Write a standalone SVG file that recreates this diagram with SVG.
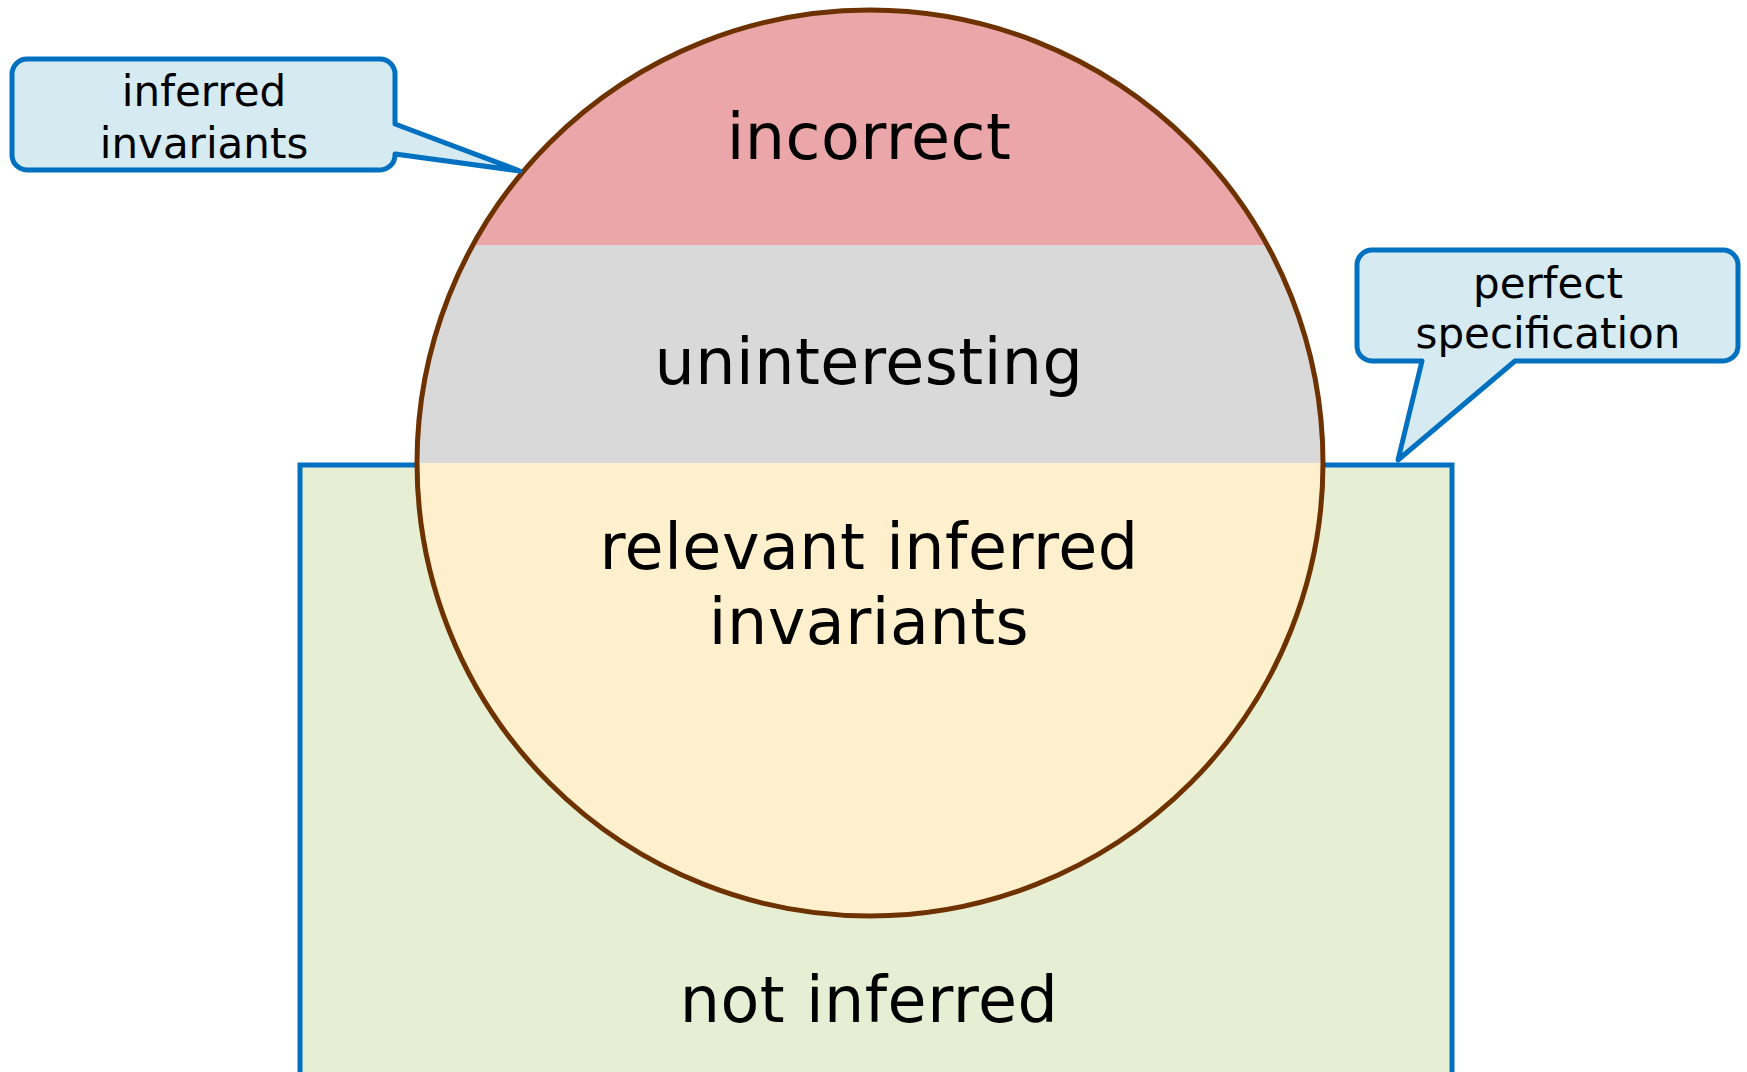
<svg xmlns="http://www.w3.org/2000/svg" width="1747" height="1072" viewBox="0 0 1747 1072">
<style>
.t{font-family:"DejaVu Sans","Verdana",sans-serif;fill:#000;text-anchor:middle}
.big{font-size:63.5px;letter-spacing:0.5px}
.small{font-size:42px}
.callout{fill:#D5EAF1;stroke:#0070C0;stroke-width:5;stroke-linejoin:round}
</style>
<defs>
<clipPath id="cc"><circle cx="870" cy="463" r="453"/></clipPath>
</defs>
<rect width="1747" height="1072" fill="#fff"/>
<g id="not-inferred">
<rect x="300" y="465" width="1152" height="640" fill="#E6EFD4" stroke="#0070C0" stroke-width="5"/>
<text class="t big" x="869" y="1022">not inferred</text>
</g>
<g id="circle">
<g clip-path="url(#cc)">
<rect id="incorrect-band" x="400" y="0" width="950" height="245" fill="#EAA6A8"/>
<rect id="uninteresting-band" x="400" y="245" width="950" height="218" fill="#D9D9D9"/>
<rect id="relevant-band" x="400" y="463" width="950" height="460" fill="#FEF0CD"/>
</g>
<circle cx="870" cy="463" r="453" fill="none" stroke="#6E3200" stroke-width="5"/>
</g>
<g id="incorrect"><text class="t big" x="869" y="159">incorrect</text></g>
<g id="uninteresting"><text class="t big" x="869" y="384">uninteresting</text></g>
<g id="relevant"><text class="t big" x="869" y="569">relevant inferred</text><text class="t big" x="869" y="644">invariants</text></g>
<g id="callout-inferred">
<path class="callout" d="M27,59 H380 A15,15 0 0 1 395,74 V124 L520,171 L395,154 V155 A15,15 0 0 1 380,170 H27 A15,15 0 0 1 12,155 V74 A15,15 0 0 1 27,59 Z"/>
<text class="t small" x="204" y="106">inferred</text>
<text class="t small" x="204" y="158">invariants</text>
</g>
<g id="callout-perfect">
<path class="callout" d="M1372,250 H1723 A15,15 0 0 1 1738,265 V346 A15,15 0 0 1 1723,361 H1515 L1398,460 L1422,361 H1372 A15,15 0 0 1 1357,346 V265 A15,15 0 0 1 1372,250 Z"/>
<text class="t small" x="1548" y="298">perfect</text>
<text class="t small" x="1548" y="348">specification</text>
</g>
<g id="connectors"></g>
</svg>
